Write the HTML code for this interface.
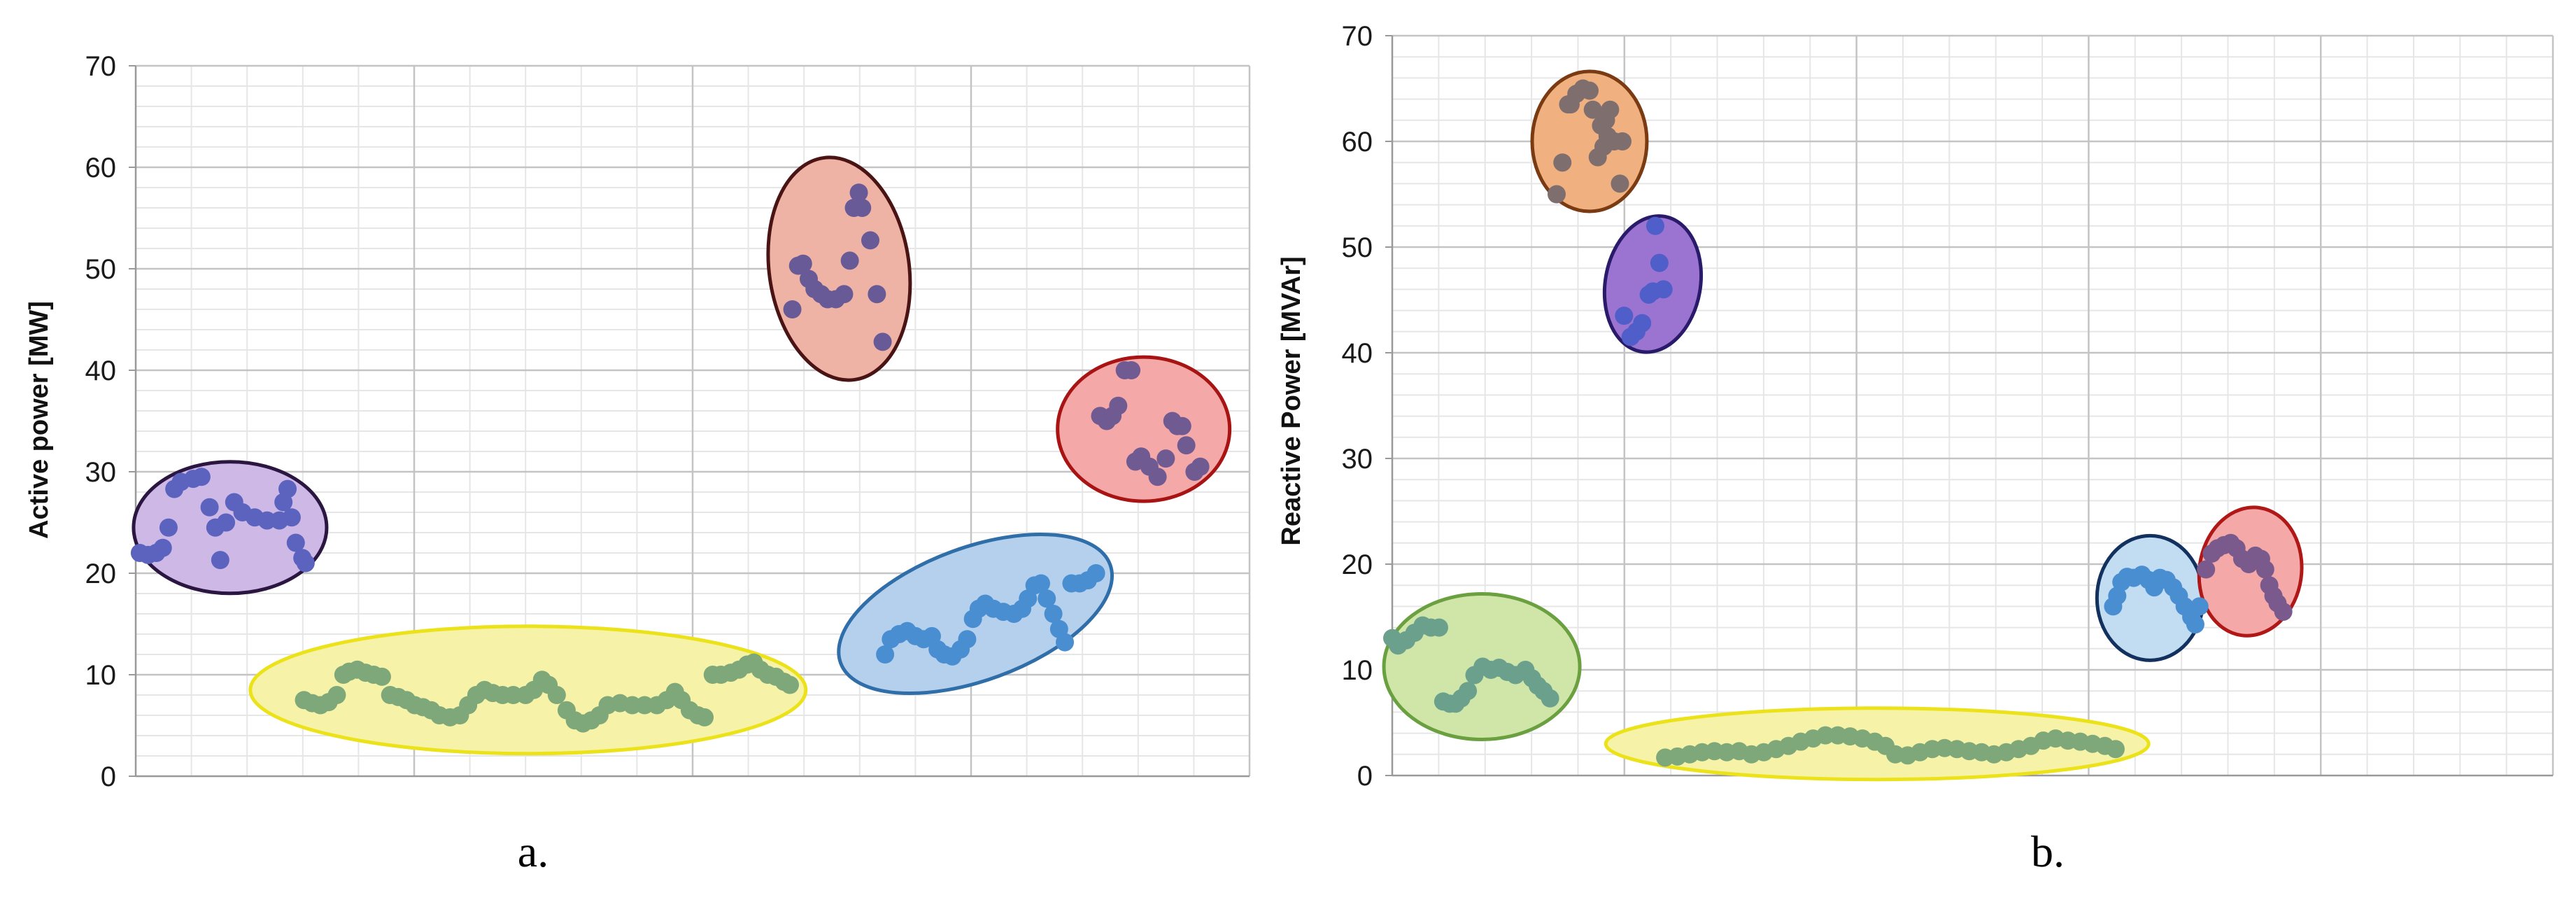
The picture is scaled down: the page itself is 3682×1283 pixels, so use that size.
<!DOCTYPE html>
<html><head><meta charset="utf-8"><style>
html,body{margin:0;padding:0;background:#fff;}
svg{display:block;}
</style></head><body>
<svg id="fig" width="3682" height="1283" xmlns="http://www.w3.org/2000/svg">
<g id="chartA"></g>
<g id="chartB"></g>
<text x="762" y="1238" font-family="Liberation Serif, serif" font-size="64" text-anchor="middle">a.</text>
<text x="2927" y="1238" font-family="Liberation Serif, serif" font-size="64" text-anchor="middle">b.</text>
</svg>
<script>
// ---- Chart A data (x in arbitrary units 0..1357, y in MW) ----
const yTicksA = [0,10,20,30,40,50,60,70];
const purpleAX = [5,15,25,33,40,47,55,70,80,90,97,103,110,120,130,145,160,175,180,185,190,195,203,207];
const purpleAY = [22,21.8,22,22.5,24.5,28.3,29,29.3,29.5,26.5,24.5,21.3,25,27,26,25.5,25.2,25.2,27,28.3,25.5,23,21.5,21];
const greenAX = [205,215,225,235,245,253,260,270,280,290,300,310,320,330,340,350,360,370,383,395,405,415,425,435,447,460,475,485,495,503,513,525,535,545,555,565,575,590,605,620,635,647,657,665,675,685,693,703,713,725,735,745,753,761,770,780,790,797];
const greenAY = [7.5,7.2,7,7.3,8,10,10.3,10.5,10.2,10,9.8,8,7.8,7.5,7,6.8,6.5,6,5.8,6,7,8,8.5,8.2,8,8,8,8.5,9.5,9,8,6.5,5.5,5.2,5.5,6,7,7.2,7,7,7,7.5,8.3,7.5,6.5,6,5.8,10,10,10.2,10.5,11,11.2,10.5,10,9.8,9.3,9];
const blueAX = [913,920,930,940,950,960,970,977,985,995,1005,1013,1020,1027,1035,1045,1057,1070,1080,1087,1095,1103,1110,1118,1125,1132,1140,1150,1160,1170];
const blueAY = [12,13.5,14,14.3,13.8,13.5,13.8,12.5,12,11.8,12.5,13.5,15.5,16.5,17,16.5,16.2,16,16.5,17.5,18.8,19,17.5,16,14.5,13.2,19,19,19.3,20];
const pinkAX = [800,807,813,820,827,835,843,853,863,870,875,881,885,895,903,910];
const pinkAY = [46,50.3,50.5,49,48,47.5,47,47,47.5,50.8,56,57.5,56,52.8,47.5,42.8];
const redAX = [1175,1183,1190,1197,1205,1213,1218,1225,1235,1245,1255,1263,1269,1275,1280,1290,1297];
const redAY = [35.5,35,35.5,36.5,40,40,31,31.5,30.5,29.5,31.3,35,34.5,34.5,32.6,30,30.5];
// ---- Chart B data (x in arbitrary units 0..1412, y in MVAr) ----
const yTicksB = [0,10,20,30,40,50,60,70];
const orangeBX = [200,207,214,217,224,232,240,244,250,254,257,260,262,265,270,277,280];
const orangeBY = [55,58,63.5,63.5,64.5,65,64.8,63,58.5,61.5,59.5,62,60.5,63,60,56,60];
const purpleBX = [282,290,297,304,312,317,320,325,330];
const purpleBY = [43.5,41.5,42,42.8,45.5,45.8,52,48.5,46];
const greenBX = [0,7,17,27,37,47,57,62,70,77,84,92,100,110,120,130,140,150,162,170,177,184,192];
const greenBY = [13,12.3,12.8,13.5,14.2,14,14,7,6.8,6.8,7.3,8,9.5,10.3,10,10.2,9.8,9.5,10,9.2,8.5,8,7.3];
const yellowBX = [332,347,362,377,392,407,422,437,452,467,482,497,512,527,542,557,572,587,600,612,627,642,657,672,687,702,717,732,747,762,777,792,807,822,837,852,867,880];
const yellowBY = [1.7,1.8,2,2.2,2.3,2.2,2.3,2,2.2,2.5,2.8,3.2,3.5,3.8,3.8,3.7,3.5,3.2,2.8,2,1.9,2.2,2.5,2.6,2.5,2.3,2.2,2,2.2,2.5,2.8,3.3,3.5,3.3,3.2,3,2.8,2.5];
const blueBX = [877,882,887,894,902,912,920,927,934,942,950,957,964,972,977,982];
const blueBY = [16,17,18.3,18.8,18.7,19,18.5,17.8,18.7,18.5,17.8,17,16,15,14.3,16];
const redBX = [990,997,1004,1012,1020,1027,1034,1042,1050,1057,1062,1067,1072,1077,1084];
const redBY = [19.5,21,21.5,21.8,22,21.5,20.5,20,20.8,20.5,19.5,18,17,16.3,15.5];

const NS = "http://www.w3.org/2000/svg";
function mk(tag, attrs, parent){
  const e = document.createElementNS(NS, tag);
  for (const k in attrs) e.setAttribute(k, attrs[k]);
  parent.appendChild(e); return e;
}

function drawChart(g, cfg){
  const sx = v => cfg.left + v/cfg.xMax*(cfg.right-cfg.left);
  const sy = v => cfg.bottom - v/70*(cfg.bottom-cfg.top);
  const grid = mk('g', {}, g);
  
  
  for (let v=0; v<=70; v+=2){
    if (v%10===0) continue;
    mk('line',{x1:cfg.left,x2:cfg.right,y1:sy(v),y2:sy(v),stroke:'#e6e6e6','stroke-width':2},grid);
  }
  const step = (cfg.right-cfg.left)/(cfg.majorX*5);
  for (let i=1;i<=cfg.majorX*5;i++){
    if (i%5===0) continue;
    const x = cfg.left+i*step;
    mk('line',{x1:x,x2:x,y1:cfg.top,y2:cfg.bottom,stroke:'#e6e6e6','stroke-width':2},grid);
  }
  for (let i=1;i<=cfg.majorX;i++){
    const x = cfg.left+i*step*5;
    mk('line',{x1:x,x2:x,y1:cfg.top,y2:cfg.bottom,stroke:'#c4c4c4','stroke-width':2.5},grid);
  }
  cfg.ticks.forEach(t=>{
    if (t>0) mk('line',{x1:cfg.left,x2:cfg.right,y1:sy(t),y2:sy(t),stroke:'#c4c4c4','stroke-width':2.5},grid);
    const tl = mk('text',{x:cfg.left-28,y:sy(t)+14,'text-anchor':'end','font-family':'Liberation Sans, sans-serif','font-size':40,fill:'#1a1a1a'},g);
    tl.textContent = t;
    
    
    mk('line',{x1:cfg.left-10,x2:cfg.left,y1:sy(t),y2:sy(t),stroke:'#999','stroke-width':2},g);
  });
  mk('line',{x1:cfg.left,x2:cfg.left,y1:cfg.top,y2:cfg.bottom,stroke:'#999','stroke-width':2.5},g);
  mk('line',{x1:cfg.left,x2:cfg.right,y1:cfg.bottom,y2:cfg.bottom,stroke:'#999','stroke-width':2.5},g);
  const yt = mk('text',{x:0,y:0,transform:`translate(${cfg.titleX},${cfg.titleY}) rotate(-90)`,'text-anchor':'middle','font-family':'Liberation Sans, sans-serif','font-size':38,'font-weight':'bold',fill:'#111'},g);
  yt.textContent = cfg.title;
  
  
  cfg.ellipses.forEach(el=>{
    const cx=sx(el.cx), cy=sy(el.cy);
    const e = mk('ellipse',{cx:cx,cy:cy,rx:el.rx,ry:el.ry,fill:el.fill,stroke:el.stroke,'stroke-width':5,transform:`rotate(${el.rot} ${cx} ${cy})`},g);
    
    
  });
  cfg.series.forEach(s=>{
    const sg = mk('g',{fill:s.color},g);
    
    
    s.xs.forEach((xv,i)=>{
      const c = mk('circle',{cx:sx(xv),cy:sy(s.ys[i]),r:13},sg);
      
      
    });
  });
}

drawChart(document.getElementById('chartA'), {
  left:194,right:1786,top:94,bottom:1109,xMax:1357,majorX:4,ticks:yTicksA,
  title:'Active power [MW]',titleX:68,titleY:600,
  ellipses:[
    {name:'cluster-purple-ellipse',cx:115,cy:24.5,rx:138,ry:94,rot:0,fill:'#cdb8e6',stroke:'#2a1640'},
    {name:'cluster-yellow-ellipse',cx:478,cy:8.5,rx:397,ry:91,rot:0,fill:'#f6f3a8',stroke:'#ece21a'},
    {name:'cluster-pink-ellipse',cx:857,cy:50,rx:100,ry:160,rot:-8,fill:'#efb3a5',stroke:'#4a1414'},
    {name:'cluster-blue-ellipse',cx:1023,cy:16,rx:205,ry:95,rot:-20,fill:'#b5d0ec',stroke:'#2f6ea8'},
    {name:'cluster-red-ellipse',cx:1228,cy:34.2,rx:123,ry:103,rot:0,fill:'#f5a8a8',stroke:'#a81414'}
  ],
  series:[
    {name:'series-purple',xs:purpleAX,ys:purpleAY,color:'#5b63bf'},
    {name:'series-green',xs:greenAX,ys:greenAY,color:'#7ea87a'},
    {name:'series-blue',xs:blueAX,ys:blueAY,color:'#4a8ed2'},
    {name:'series-pink',xs:pinkAX,ys:pinkAY,color:'#675a97'},
    {name:'series-red',xs:redAX,ys:redAY,color:'#6f5a92'}
  ]
});

drawChart(document.getElementById('chartB'), {
  left:1990,right:3649,top:51,bottom:1108,xMax:1412,majorX:5,ticks:yTicksB,
  title:'Reactive Power [MVAr]',titleX:1858,titleY:573,
  ellipses:[
    {name:'cluster-orange-ellipse',cx:240,cy:60,rx:82,ry:100,rot:0,fill:'#f0b080',stroke:'#7a3a12'},
    {name:'cluster-purple-ellipse',cx:317,cy:46.5,rx:68,ry:98,rot:10,fill:'#9a74d0',stroke:'#2a1a6a'},
    {name:'cluster-green-ellipse',cx:109,cy:10.3,rx:140,ry:104,rot:0,fill:'#cfe6a8',stroke:'#6aa040'},
    {name:'cluster-yellow-ellipse',cx:590,cy:3,rx:388,ry:51,rot:0,fill:'#f6f3a8',stroke:'#ece21a'},
    {name:'cluster-blue-ellipse',cx:922,cy:16.8,rx:76,ry:89,rot:0,fill:'#c2dcf2',stroke:'#13315e'},
    {name:'cluster-red-ellipse',cx:1044,cy:19.3,rx:73,ry:92,rot:8,fill:'#f5a8a8',stroke:'#b01818'}
  ],
  series:[
    {name:'series-orange',xs:orangeBX,ys:orangeBY,color:'#7f6e6e'},
    {name:'series-purple',xs:purpleBX,ys:purpleBY,color:'#4f5ec8'},
    {name:'series-green',xs:greenBX,ys:greenBY,color:'#6ba18c'},
    {name:'series-yellow',xs:yellowBX,ys:yellowBY,color:'#7ea87a'},
    {name:'series-blue',xs:blueBX,ys:blueBY,color:'#4a8ed2'},
    {name:'series-red',xs:redBX,ys:redBY,color:'#7a5a8c'}
  ]
});
</script>
</body></html>
